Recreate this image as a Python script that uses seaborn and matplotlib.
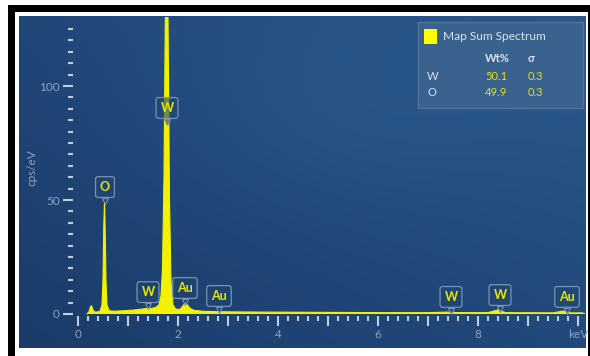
import numpy as np
import matplotlib
matplotlib.use("Agg")
import matplotlib.pyplot as plt
import matplotlib.transforms as mtransforms
import seaborn as sns
from matplotlib.patches import Rectangle
from matplotlib.colors import LinearSegmentedColormap

# Spectrum: energy (keV) and intensity (cps/eV)
energy = [0.18, 0.22, 0.25, 0.27, 0.29, 0.32, 0.37, 0.44, 0.48, 0.50, 0.515, 0.53,
          0.545, 0.56, 0.58, 0.62, 0.70, 0.90, 1.10, 1.30, 1.40, 1.48, 1.55, 1.62,
          1.66, 1.69, 1.72, 1.75, 1.775, 1.80, 1.83, 1.86, 1.90, 1.95, 2.00, 2.05,
          2.10, 2.14, 2.18, 2.24, 2.32, 2.50, 2.80, 3.20, 4.00, 5.00, 6.00, 7.00,
          7.39, 7.60, 8.20, 8.40, 8.55, 9.50, 9.71, 9.85, 10.10]
counts = [0.0, 1.0, 3.2, 3.6, 2.4, 1.0, 0.8, 1.2, 4.0, 15.0, 38.0, 49.0,
          36.0, 14.0, 4.0, 1.5, 1.2, 1.4, 1.7, 2.2, 2.6, 2.5, 2.8, 4.0,
          8.0, 20.0, 60.0, 140.0, 175.0, 130.0, 50.0, 14.0, 4.0, 2.2, 2.0, 2.2,
          3.5, 4.8, 4.2, 2.5, 1.6, 1.2, 1.0, 0.9, 0.8, 0.7, 0.6, 0.6,
          0.8, 0.6, 0.6, 1.8, 0.6, 0.5, 1.3, 0.5, 0.5]

# Element line markers: label, energy (keV), label height (cps/eV)
line_labels = ["W", "O", "W", "Au", "Au", "W", "W", "Au"]
line_energy = [1.78, 0.54, 1.40, 2.14, 2.82, 7.46, 8.44, 9.78]
line_height = [90.4, 55.7, 9.6, 11.4, 7.9, 7.5, 8.3, 7.5]

# Quantification table
quant_elements = ["W", "O"]
quant_wt = ["50.1", "49.9"]
quant_sigma = ["0.3", "0.3"]

x_ticks = [0, 1, 2, 3, 4, 5, 6, 7, 8, 9, 10]
x_ticklabels = ["0", "", "2", "", "4", "", "6", "", "8", "", "keV"]
y_ticks = [0, 50, 100]

sns.set_theme(style="white")
plt.rcParams['font.family'] = ['Lato', 'DejaVu Sans']

W, H = 590, 356
fig = plt.figure(figsize=(W / 100, H / 100), dpi=100)
fig.patch.set_facecolor("white")


def fx(px):
    return px / W


def fy(py):
    return 1 - py / H


# Frame
fig.patches.append(Rectangle((fx(8), fy(356)), fx(582), 351 / H, transform=fig.transFigure,
                             facecolor="black", edgecolor="none", zorder=-10))
fig.patches.append(Rectangle((fx(15), fy(356)), fx(573), 344 / H, transform=fig.transFigure,
                             facecolor="white", edgecolor="none", zorder=-9))

# Gradient panel
bg = fig.add_axes([fx(19), fy(348), fx(567), 332 / H], zorder=-5)
gx, gy = np.meshgrid(np.linspace(0, 1, 200), np.linspace(0, 1, 200))
grad = 0.55 * gx + 0.45 * gy
grad += 0.25 * np.exp(-((gx - 0.55) ** 2 + (gy - 0.7) ** 2) / 0.12)
cmap = LinearSegmentedColormap.from_list("panel", ["#1b3c6a", "#21487a", "#2a588a"])
bg.imshow(grad, cmap=cmap, origin="lower", aspect="auto", extent=(0, 1, 0, 1))
bg.set_axis_off()

# Main axes
ax = fig.add_axes([fx(73), fy(316), fx(512), 299 / H])
ax.set_facecolor("none")
ax.fill_between(energy, 0, counts, color="#f2f200", lw=0, zorder=3)
sns.lineplot(x=energy, y=counts, ax=ax, color="#f2f200", lw=0.8, zorder=4)
ax.plot([energy[-1], 10.14], [counts[-1], counts[-1]], color="#d8e030", lw=0.8, zorder=3)

ax.set_xlim(-0.1, 10.14)
ax.set_ylim(-0.88, 130.3)
for s in ax.spines.values():
    s.set_visible(False)

tick_col = "#c3cedc"
lab_col = "#8fa3be"
ax.set_xticks(x_ticks)
ax.set_xticklabels(x_ticklabels)
ax.set_xticks(np.arange(0, 10.01, 0.2), minor=True)
ax.set_yticks(y_ticks)
ax.set_yticklabels([str(v) for v in y_ticks])
ax.set_yticks(np.arange(0, 126, 5), minor=True)
ax.tick_params(axis="both", which="major", length=7.5, width=1.5, color=tick_col,
               labelcolor=lab_col, labelsize=8.5, direction="out", pad=2)
ax.tick_params(axis="both", which="minor", length=3.8, width=1.5, color=tick_col,
               direction="out")
ax.tick_params(axis="x", which="both", bottom=True)
ax.tick_params(axis="y", which="both", left=True)
ax.set_xlabel("")
ax.set_ylabel("")
fig.text(fx(32), fy(168), "cps/eV", rotation=90, color=lab_col, fontsize=8.5,
         ha="center", va="center")

# Element line labels with a small pointer under each box
box_fc = (0.13, 0.27, 0.44, 0.6)
box_ec = "#7893b4"
pointer = ax.transData + mtransforms.ScaledTranslation(0, -9.8 / 72, fig.dpi_scale_trans)
for lab, e, h in zip(line_labels, line_energy, line_height):
    ax.annotate(lab, (e, h), ha="center", va="center", color="#e6e600",
                fontsize=9, fontweight="bold", zorder=6,
                bbox=dict(boxstyle="round,pad=0.35,rounding_size=0.2",
                          fc=box_fc, ec=box_ec, lw=0.9))
    ax.plot([e], [h], marker="v", markersize=4.5, color=box_fc,
            markeredgecolor=box_ec, markeredgewidth=0.8, zorder=5,
            transform=pointer)

# Quantification box
fig.patches.append(Rectangle((fx(418), fy(108)), fx(165), 86 / H, transform=fig.transFigure,
                             facecolor="#3d6690", edgecolor="#58799d", lw=1.0,
                             alpha=0.85, zorder=5))
fig.patches.append(Rectangle((fx(424), fy(44)), fx(13), 15 / H, transform=fig.transFigure,
                             facecolor="#ffff00", edgecolor="none", zorder=6))
txt = "#dbe2ec"
fig.text(fx(443), fy(36), "Map Sum Spectrum", color=txt, fontsize=8.6, va="center", zorder=7)
fig.text(fx(485), fy(58), "Wt%", color=txt, fontsize=8, fontweight="bold", va="center", zorder=7)
fig.text(fx(528), fy(58), "σ", color=txt, fontsize=8, fontweight="bold", va="center", zorder=7)
for i, (el, wt, sg) in enumerate(zip(quant_elements, quant_wt, quant_sigma)):
    yy = fy(77 + 16 * i)
    fig.text(fx(427), yy, el, color=txt, fontsize=8, va="center", zorder=7)
    fig.text(fx(485), yy, wt, color="#e2e21a", fontsize=8, va="center", zorder=7)
    fig.text(fx(528), yy, sg, color="#e2e21a", fontsize=8, va="center", zorder=7)

fig.savefig("out.png", dpi=100)
